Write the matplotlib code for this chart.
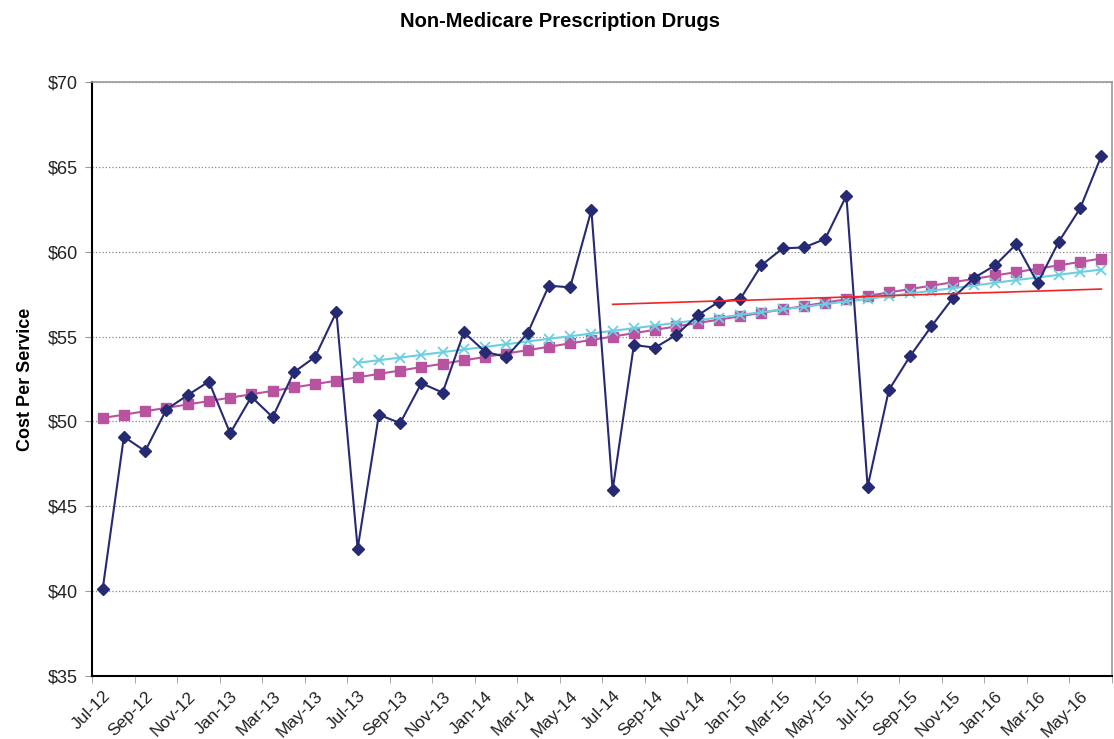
import matplotlib
matplotlib.use('Agg')
import matplotlib.pyplot as plt
import numpy as np

plt.rcParams['font.family'] = ['Liberation Sans', 'DejaVu Sans']

months = ['Jul-12', 'Aug-12', 'Sep-12', 'Oct-12', 'Nov-12', 'Dec-12',
          'Jan-13', 'Feb-13', 'Mar-13', 'Apr-13', 'May-13', 'Jun-13',
          'Jul-13', 'Aug-13', 'Sep-13', 'Oct-13', 'Nov-13', 'Dec-13',
          'Jan-14', 'Feb-14', 'Mar-14', 'Apr-14', 'May-14', 'Jun-14',
          'Jul-14', 'Aug-14', 'Sep-14', 'Oct-14', 'Nov-14', 'Dec-14',
          'Jan-15', 'Feb-15', 'Mar-15', 'Apr-15', 'May-15', 'Jun-15',
          'Jul-15', 'Aug-15', 'Sep-15', 'Oct-15', 'Nov-15', 'Dec-15',
          'Jan-16', 'Feb-16', 'Mar-16', 'Apr-16', 'May-16', 'Jun-16']

# actual cost per service
cost = [40.1, 49.1, 48.25, 50.7, 51.55, 52.35,
        49.3, 51.45, 50.25, 52.9, 53.8, 56.45,
        42.5, 50.4, 49.9, 52.25, 51.7, 55.25,
        54.1, 53.8, 55.2, 58.0, 57.9, 62.45,
        45.95, 54.5, 54.35, 55.1, 56.25, 57.05,
        57.2, 59.2, 60.2, 60.25, 60.75, 63.3,
        46.15, 51.85, 53.85, 55.6, 57.25, 58.45,
        59.2, 60.45, 58.15, 60.6, 62.55, 65.65]

# 4-year trend
trend_4yr = [50.2, 50.4, 50.6, 50.8, 51.0, 51.2,
             51.4, 51.6, 51.8, 52.0, 52.2, 52.4,
             52.6, 52.8, 53.0, 53.2, 53.4, 53.6,
             53.8, 54.0, 54.2, 54.4, 54.6, 54.8,
             55.0, 55.2, 55.4, 55.6, 55.8, 56.0,
             56.2, 56.4, 56.6, 56.8, 57.0, 57.2,
             57.4, 57.6, 57.8, 58.0, 58.2, 58.4,
             58.6, 58.8, 59.0, 59.2, 59.4, 59.6]

# 3-year trend (starts Jul-13)
trend_3yr = [np.nan] * 12 + [
             53.45, 53.61, 53.76, 53.92, 54.08, 54.24,
             54.39, 54.55, 54.71, 54.87, 55.02, 55.18,
             55.34, 55.49, 55.65, 55.81, 55.97, 56.12,
             56.28, 56.44, 56.6, 56.75, 56.91, 57.07,
             57.22, 57.38, 57.54, 57.7, 57.85, 58.01,
             58.17, 58.33, 58.48, 58.64, 58.8, 58.95]

# 2-year trend (starts Jul-14)
trend_2yr = [np.nan] * 24 + [
             56.9, 56.94, 56.98, 57.02, 57.06, 57.1,
             57.13, 57.17, 57.21, 57.25, 57.29, 57.33,
             57.37, 57.41, 57.45, 57.49, 57.53, 57.57,
             57.6, 57.64, 57.68, 57.72, 57.76, 57.8]

x = np.arange(len(months))

fig = plt.figure(figsize=(11.14, 7.39), dpi=100)
ax = fig.add_axes([0.0826, 0.0853, 0.9156, 0.8037])

ax.plot(x, trend_4yr, color='#B9529F', lw=1.5, marker='s', markersize=7, zorder=3)
ax.plot(x, trend_3yr, color='#6CCFE0', lw=1.5, marker='x', markersize=6.5, mew=1.3, zorder=4)
ax.plot(x, cost, color='#262A72', lw=1.5, marker='D', markersize=6.2, zorder=5)
ax.plot(x, trend_2yr, color='#F02424', lw=1.2, zorder=6)

ax.set_xlim(-0.5, len(months) - 0.5)
ax.set_ylim(35, 70)
yt = np.arange(35, 71, 5)
ax.set_yticks(yt)
ax.set_yticklabels(['$%d' % v for v in yt], fontsize=13, color='#222222')
ax.yaxis.grid(True, linestyle=':', color='#888888', lw=0.9)
ax.set_axisbelow(True)

ax.set_xticks(x[::2])
ax.set_xticklabels(months[::2], rotation=45, ha='right', rotation_mode='anchor',
                   fontsize=12.5, color='#222222')
ax.tick_params(axis='x', which='major', length=0, pad=9)
ax.set_xticks(np.arange(-0.5, len(months), 2), minor=True)
ax.tick_params(axis='x', which='minor', length=5, color='#999999')
ax.tick_params(axis='y', length=5, color='#999999', pad=5)

for s in ['left', 'bottom']:
    ax.spines[s].set_color('black')
    ax.spines[s].set_linewidth(1.5)
for s in ['top', 'right']:
    ax.spines[s].set_color('#999999')
    ax.spines[s].set_linewidth(1.2)

ax.set_ylabel('Cost Per Service', fontsize=13, fontweight='bold', labelpad=10)
fig.text(0.503, 0.984, 'Non-Medicare Prescription Drugs', ha='center', va='top',
         fontsize=14.5, fontweight='bold')

fig.savefig('out.png', dpi=100)
